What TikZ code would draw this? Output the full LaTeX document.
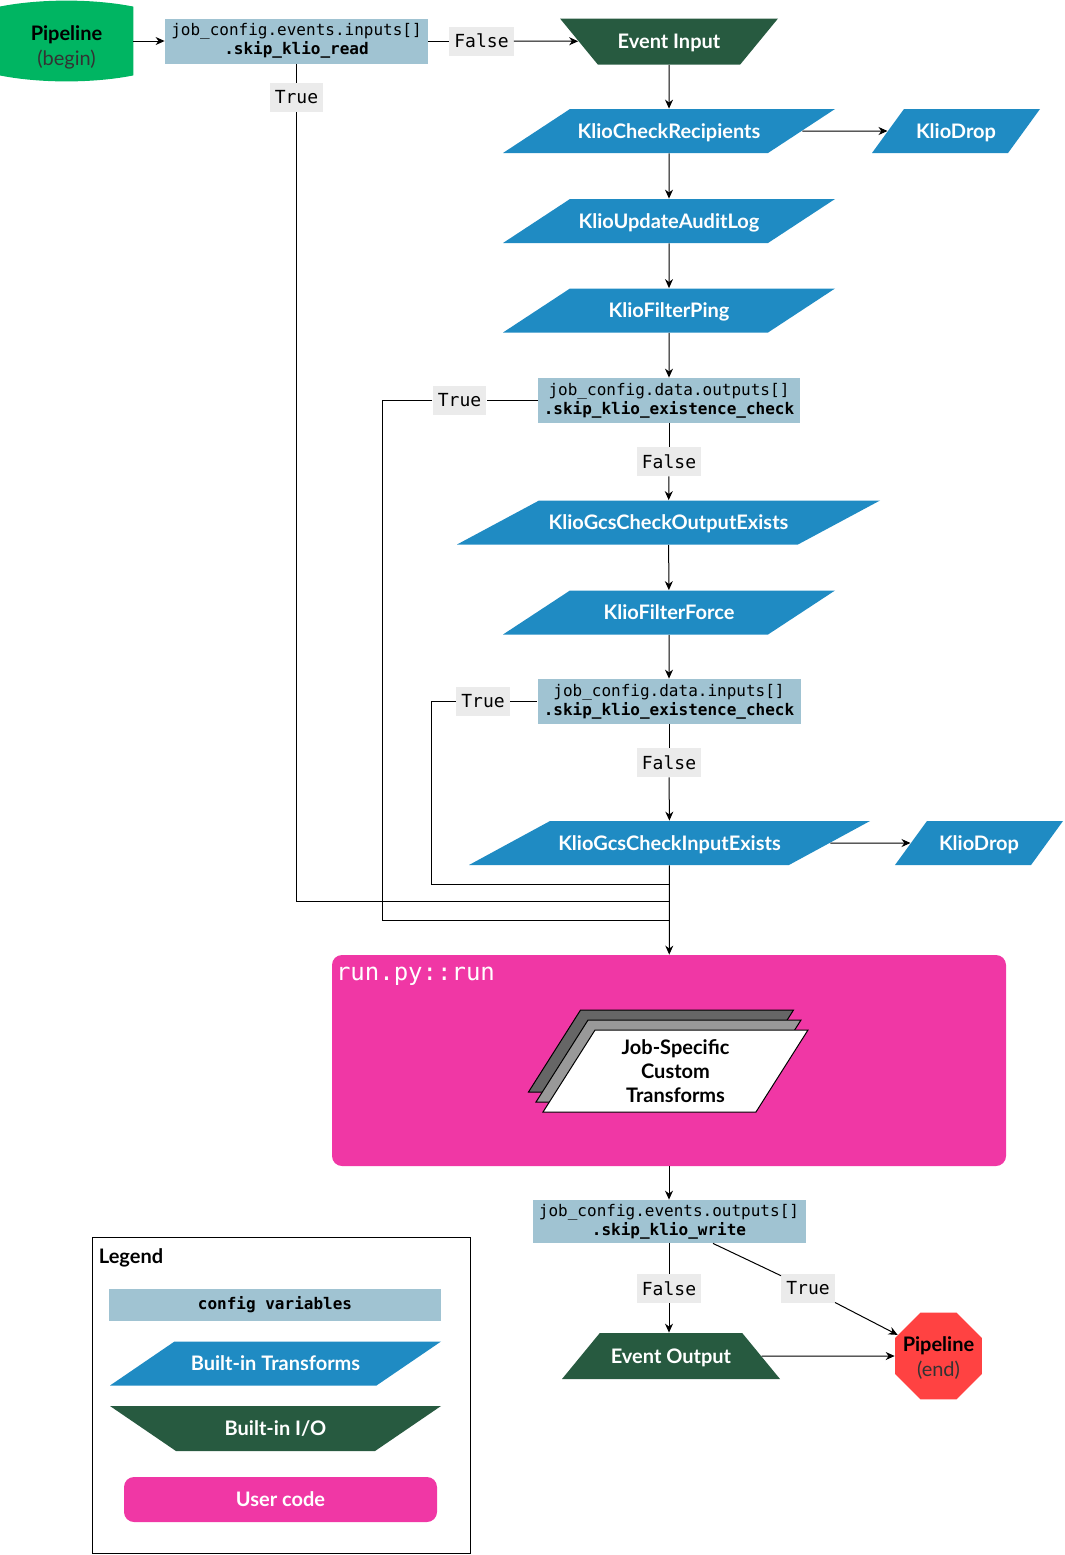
\documentclass[tikz,border=0pt]{standalone}
\usepackage{fontspec}
\setmainfont{Lato}
\setmonofont{DejaVu Sans Mono}
\usepackage{tikz}
\usetikzlibrary{shapes.geometric, arrows.meta, positioning, backgrounds, calc}
\definecolor{cfgblue}{HTML}{A0C3D2}
\definecolor{klioblue}{HTML}{1F8BC3}
\definecolor{iogreen}{HTML}{275A40}
\definecolor{userpink}{HTML}{F037A5}
\definecolor{startgreen}{HTML}{00B562}
\definecolor{stopred}{HTML}{FF4242}
\definecolor{tagbg}{HTML}{EBEBEB}
\definecolor{sheetdark}{HTML}{666666}
\definecolor{sheetmid}{HTML}{999999}
\tikzset{
  % config variable boxes
  cfgbox/.style={
    rectangle, fill=cfgblue, minimum width=#1, minimum height=22.5pt,
    inner sep=1pt, align=center, font=\ttfamily\fontsize{8}{9.5}\selectfont
  },
  cfgbox/.default=131.5pt,
  % built-in transforms (height comes from the text box, so the angle holds)
  builtin/.style={
    trapezium, trapezium stretches body, trapezium left angle=#1,
    trapezium right angle=180-#1, fill=klioblue, text=white,
    text height=8.5pt, text depth=1.5pt, inner xsep=1pt, inner ysep=6pt,
    font=\bfseries\fontsize{10}{12}\selectfont
  },
  builtin/.default=33.3,
  % built-in i/o
  iobox/.style={
    trapezium, trapezium stretches body, trapezium left angle=#1,
    trapezium right angle=#1, fill=iogreen, text=white,
    text height=8.5pt, text depth=1.5pt, inner xsep=1pt, inner ysep=6.5pt,
    minimum width=109pt, font=\bfseries\fontsize{10}{12}\selectfont
  },
  % user code
  usercode/.style={
    rectangle, rounded corners=5pt, fill=userpink, text=white,
    font=\bfseries\fontsize{10}{12}\selectfont
  },
  % stacked custom transforms
  stacksheet/.style={
    trapezium, trapezium stretches body, trapezium left angle=57.6,
    trapezium right angle=122.4, draw=black, line width=0.5pt, fill=#1,
    minimum width=132.5pt, text height=0pt, text depth=0pt,
    inner xsep=0pt, inner ysep=20.5pt
  },
  % True / False tags
  branchtag/.style={fill=tagbg, inner sep=2.5pt, minimum height=14.5pt,
    font=\ttfamily\fontsize{9}{10}\selectfont},
  endpoint/.style={align=center, font=\fontsize{10}{12.5}\selectfont},
  flow/.style={-{Stealth[length=4.5pt, width=4pt]}, line width=0.5pt},
  link/.style={line width=0.5pt},
}
\begin{document}
\begin{tikzpicture}[x=0.5pt, y=-0.5pt]
\useasboundingbox (0,0) rectangle (1065,1555);

% start
\node[endpoint, minimum width=66.5pt, minimum height=34pt] (pbegin) at (66.5,47)
  {\textbf{Pipeline}\\{\color{black!80}(begin)}};
\begin{scope}[on background layer]
  \fill[startgreen] ([yshift=3pt]pbegin.north west) .. controls +(40,-8) and +(-40,-8) .. ([yshift=3pt]pbegin.north east)
    -- ([yshift=3pt]pbegin.south east) .. controls +(-40,8) and +(40,8) .. ([yshift=3pt]pbegin.south west) -- cycle;
\end{scope}

% read side
\node[cfgbox] (cfg1) at (296.5,41) {job\_config.events.inputs[]\\\textbf{.skip\_klio\_read}};
\node[branchtag] (f1) at (481.5,41) {False};
\node[branchtag] (t1) at (296.5,97.5) {True};
\node[iobox=129.4] (evin) at (669,41.5) {Event Input};

\node[builtin, minimum width=166pt] (recip) at (669,131) {KlioCheckRecipients};
\node[builtin=54, minimum width=84pt] (drop1) at (956,131) {KlioDrop};
\node[builtin, minimum width=166pt] (audit) at (669,221) {KlioUpdateAuditLog};
\node[builtin, minimum width=166pt] (ping) at (669,310.5) {KlioFilterPing};

\node[cfgbox=131pt] (cfg2) at (669,400.5) {job\_config.data.outputs[]\\\textbf{.skip\_klio\_existence\_check}};
\node[branchtag] (t2) at (459.5,400.5) {True};
\node[branchtag] (f2) at (669,461.5) {False};
\node[builtin=28.2, minimum width=211.5pt] (outex) at (668.5,522.5) {KlioGcsCheckOutputExists};
\node[builtin, minimum width=166pt] (force) at (669,612.5) {KlioFilterForce};

\node[cfgbox] (cfg3) at (669,701.5) {job\_config.data.inputs[]\\\textbf{.skip\_klio\_existence\_check}};
\node[branchtag] (t3) at (483,701.5) {True};
\node[branchtag] (f3) at (669,762.5) {False};
\node[builtin=28.5, minimum width=200.5pt] (inex) at (669.5,843) {KlioGcsCheckInputExists};
\node[builtin=54, minimum width=84pt] (drop2) at (979,843) {KlioDrop};

\coordinate (j1) at (669,884);
\coordinate (j2) at (669,901);
\coordinate (j3) at (669,920);

% user code
\node[usercode, minimum width=337pt, minimum height=105.5pt] (run) at (669,1060.5) {};
\node[anchor=north west, text=white, inner sep=1pt, font=\ttfamily\fontsize{12}{14}\selectfont]
  (runlbl) at ([shift={(2,10)}]run.north west) {run.py::run};
\node[stacksheet=sheetdark] (back) at (661,1051) {};
\node[stacksheet=sheetmid] (mid) at (668.5,1061) {};
\node[stacksheet=white] (front) at (675.5,1071) {};
\node[align=center, font=\bfseries\fontsize{10}{12}\selectfont] (frontlbl) at (front.center)
  {Job-Specific\\Custom\\Transforms};

% write side
\node[cfgbox=136.5pt, minimum height=21.5pt] (cfg4) at (669,1221.5) {job\_config.events.outputs[]\\\textbf{.skip\_klio\_write}};
\node[branchtag] (f4) at (669,1288.5) {False};
\node[branchtag] (t4) at (808,1288.5) {True};
\node[iobox=50.6] (evout) at (671,1356) {Event Output};
\node[regular polygon, regular polygon sides=8, fill=stopred, minimum size=47pt, inner sep=0pt]
  (pend) at (938.5,1356) {};
\node[endpoint] (pendlbl) at ([yshift=-1pt]pend.center) {\textbf{Pipeline}\\{\color{black!80}(end)}};

% connectors
\draw[flow] (pbegin.east |- cfg1.west) -- (cfg1.west);
\draw[link] (cfg1) -- (f1);
\draw[flow] (f1) -- (evin);
\draw[link] (cfg1) -- (t1);
\draw[link] (t1) |- (j2);
\draw[flow] (evin) -- (recip);
\draw[flow] (recip) -- (drop1);
\draw[flow] (recip) -- (audit);
\draw[flow] (audit) -- (ping);
\draw[flow] (ping) -- (cfg2);
\draw[link] (cfg2) -- (t2);
\draw[link] (t2.west) -- ++(-50,0) |- (j3);
\draw[link] (cfg2) -- (f2);
\draw[flow] (f2) -- (outex);
\draw[flow] (outex) -- (force);
\draw[flow] (force) -- (cfg3);
\draw[link] (cfg3) -- (t3);
\draw[link] (t3.west) -- ++(-24,0) |- (j1);
\draw[link] (cfg3) -- (f3);
\draw[flow] (f3) -- (inex);
\draw[flow] (inex) -- (drop2);
\draw[flow] (inex) -- (run);
\draw[flow] (run) -- (cfg4);
\draw[link] (cfg4) -- (f4);
\draw[flow] (f4) -- (evout.north -| f4);
\draw[link] ([xshift=22pt]cfg4.south) -- (t4);
\draw[flow] (t4) -- (pend);
\draw[flow] (evout) -- (pend);

% legend
\node[draw, line width=0.5pt, minimum width=189pt, minimum height=158pt] (legend) at (281,1395) {};
\node[anchor=north west, inner sep=2pt, font=\bfseries\fontsize{10}{12}\selectfont]
  (legtitle) at ([shift={(3,8)}]legend.north west) {Legend};
\node[cfgbox=166pt, minimum height=16pt, font=\ttfamily\bfseries\fontsize{8}{9.5}\selectfont]
  (lcfg) at (275,1305) {config variables};
\node[builtin=34.3, minimum width=165.5pt] (ltrans) at (275.5,1363.5) {Built-in Transforms};
\node[iobox=145.7, minimum width=165.5pt, inner ysep=6.25pt] (lio) at (275.5,1428.5) {Built-in I/O};
\node[usercode, minimum width=156.5pt, minimum height=22.5pt] (luser) at (280.5,1499.5) {User code};

\end{tikzpicture}
\end{document}
